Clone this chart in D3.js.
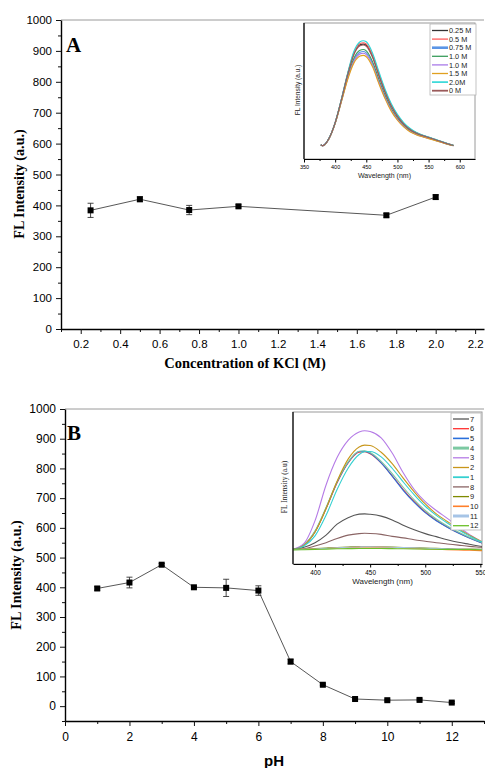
<!DOCTYPE html>
<html>
<head>
<meta charset="utf-8">
<script src="https://cdn.jsdelivr.net/npm/d3@7"></script>
<style>
  body { margin: 0; background: #fff; }
  svg { display: block; }
</style>
</head>
<body>
<svg id="chart" width="485" height="768"></svg>
<script>
"use strict";

// ---- panel A: effect of KCl ----
const kclConc = [0.25, 0.5, 0.75, 1.0, 1.75, 2.0];
const kclIntensity = [384, 420, 385, 397, 368, 427];
const kclError = [23, 8, 15, 5, 6, 7];
const kclTicks = [0.2, 0.4, 0.6, 0.8, 1.0, 1.2, 1.4, 1.6, 1.8, 2.0, 2.2];

// inset A spectra
const waveA = [377, 380, 390, 400, 410, 420, 430, 440, 445, 450, 460, 470, 480, 490, 500, 510, 520, 530, 540, 550, 560, 570, 580, 590];
const specK025 = [106, 97, 151, 267, 436, 621, 773, 840, 845, 836, 755, 622, 497, 393, 316, 259, 219, 193, 174, 159, 144, 128, 113, 99];
const specK05 = [104, 97, 151, 267, 437, 625, 780, 850, 855, 846, 765, 630, 503, 398, 320, 262, 221, 194, 175, 160, 144, 129, 113, 100];
const specK075 = [103, 97, 148, 262, 425, 595, 728, 785, 790, 780, 703, 577, 461, 365, 295, 243, 206, 183, 166, 153, 139, 125, 110, 98];
const specK10a = [104, 98, 149, 264, 428, 600, 740, 800, 805, 795, 716, 588, 470, 372, 300, 247, 209, 185, 168, 155, 140, 126, 111, 99];
const specK10b = [104, 98, 148, 262, 423, 590, 718, 773, 778, 768, 692, 568, 454, 360, 291, 240, 204, 181, 165, 152, 138, 124, 110, 98];
const specK15 = [103, 97, 147, 260, 420, 583, 705, 757, 762, 752, 678, 556, 444, 352, 285, 236, 201, 179, 163, 150, 137, 123, 109, 98];
const specK20 = [105, 98, 152, 268, 440, 630, 790, 862, 870, 862, 780, 645, 515, 408, 328, 268, 226, 197, 177, 162, 146, 130, 114, 100];
const specK0 = [105, 98, 150, 266, 434, 618, 767, 833, 838, 829, 748, 616, 492, 389, 313, 257, 217, 191, 173, 158, 143, 128, 112, 99];
const labelsA = ["0.25 M", "0.5 M", "0.75 M", "1.0 M", "1.0 M", "1.5 M", "2.0M", "0 M"];
const colorsA = ["#333333", "#ff5a5a", "#5a95e6", "#3a9e5c", "#a97ae8", "#e0a020", "#2ad6d6", "#9a5a5a"];
const waveTicksA = [350, 400, 450, 500, 550, 600];

// ---- panel B: effect of pH ----
const phValues = [1, 2, 3, 4, 5, 6, 7, 8, 9, 10, 11, 12];
const phIntensity = [396, 416, 476, 400, 398, 389, 150, 72, 24, 20, 21, 12];
const phError = [6, 18, 4, 3, 29, 16, 8, 3, 3, 3, 3, 3];
const phTicks = [0, 2, 4, 6, 8, 10, 12];

// inset B spectra
const waveB = [380, 390, 400, 410, 420, 430, 440, 445, 450, 460, 470, 480, 490, 500, 510, 520, 530, 540, 550, 555];
const specPh7 = [95, 110, 140, 190, 262, 305, 328, 330, 327, 315, 290, 255, 225, 200, 180, 160, 143, 130, 117, 112];
const specPh6 = [95, 125, 212, 365, 535, 665, 735, 738, 725, 665, 580, 490, 410, 342, 288, 244, 205, 172, 143, 130];
const specPh5 = [95, 125, 213, 367, 537, 668, 740, 742, 728, 665, 578, 485, 405, 338, 285, 242, 204, 171, 142, 130];
const specPh4 = [95, 126, 218, 372, 542, 672, 742, 745, 733, 675, 595, 505, 422, 352, 296, 250, 210, 176, 146, 133];
const specPh3 = [97, 135, 285, 520, 700, 813, 868, 877, 872, 830, 730, 600, 490, 410, 352, 300, 245, 195, 152, 138];
const specPh2 = [95, 124, 210, 365, 545, 690, 770, 782, 780, 735, 660, 565, 475, 395, 330, 280, 232, 190, 152, 138];
const specPh1 = [95, 118, 185, 320, 490, 630, 720, 738, 740, 705, 630, 540, 455, 380, 320, 270, 225, 185, 150, 137];
const specPh8 = [95, 100, 118, 140, 168, 190, 200, 202, 201, 195, 182, 172, 160, 150, 140, 132, 124, 116, 110, 107];
const specPh9 = [96, 98, 101, 105, 109, 112, 114, 114, 114, 113, 111, 109, 107, 105, 103, 101, 99, 98, 97, 96];
const specPh10 = [95, 96, 99, 102, 106, 109, 111, 112, 112, 111, 109, 106, 103, 100, 97, 94, 92, 90, 88, 87];
const specPh11 = [94, 96, 99, 103, 107, 110, 112, 113, 113, 112, 110, 108, 106, 104, 102, 100, 98, 97, 96, 95];
const specPh12 = [93, 94, 96, 98, 100, 101, 102, 102, 102, 102, 101, 100, 99, 98, 97, 96, 95, 95, 94, 94];
const labelsB = ["7", "6", "5", "4", "3", "2", "1", "8", "9", "10", "11", "12"];
const colorsB = ["#555555", "#ff3030", "#2a6fdb", "#7cc9a2", "#b57be6", "#c8961a", "#35d0d0", "#8a6464", "#7f8a00", "#ff7f2a", "#a6c4e6", "#6cc02a"];
const waveTicksB = [400, 450, 500, 550];

const SANS = "'Liberation Sans', Arial, sans-serif";
const SERIF = "'Liberation Serif', 'Times New Roman', serif";

const svg = d3.select("#chart");

function mainPanel(o) {
    const x = d3.scaleLinear().domain(o.xDomain).range([o.left, o.right]);
    const y = d3.scaleLinear().domain(o.yDomain).range([o.bottom, o.top]);
    const g = svg.append("g");

    // frame top
    g.append("line")
        .attr("x1", o.left).attr("x2", o.right)
        .attr("y1", o.top).attr("y2", o.top)
        .attr("stroke", "#9a9a9a").attr("stroke-width", 1);

    // minor ticks
    g.append("g")
        .attr("transform", `translate(${o.left},0)`)
        .call(d3.axisLeft(y).tickValues(o.yMinor).tickSize(3).tickFormat(""))
        .call(s => s.select(".domain").remove());
    g.append("g")
        .attr("transform", `translate(0,${o.bottom})`)
        .call(d3.axisBottom(x).tickValues(o.xMinor).tickSize(3).tickFormat(""))
        .call(s => s.select(".domain").remove());

    const ya = g.append("g")
        .attr("transform", `translate(${o.left},0)`)
        .call(d3.axisLeft(y).tickValues(o.yTicks).tickSize(5).tickSizeOuter(0).tickPadding(4)
            .tickFormat(d3.format("d")));
    const xa = g.append("g")
        .attr("transform", `translate(0,${o.bottom})`)
        .call(d3.axisBottom(x).tickValues(o.xTicks).tickSize(5).tickSizeOuter(0).tickPadding(6)
            .tickFormat(o.xFormat));
    [ya, xa].forEach(a => {
        a.attr("font-family", SANS).attr("font-size", o.tickFont).attr("fill", "#111");
        a.select(".domain").attr("stroke-width", 1.4);
        a.selectAll(".tick line").attr("stroke-width", 1);
    });
    g.selectAll(".tick line").attr("stroke", "#111");

    // connecting line
    g.append("path")
        .datum(o.xs.map((d, i) => [d, o.ys[i]]))
        .attr("fill", "none").attr("stroke", "#444").attr("stroke-width", 0.9)
        .attr("d", d3.line().x(d => x(d[0])).y(d => y(d[1])));

    // error bars
    const eb = g.append("g").attr("stroke", "#333").attr("stroke-width", 0.9);
    o.xs.forEach((d, i) => {
        const cx = x(d), y1 = y(o.ys[i] - o.errs[i]), y2 = y(o.ys[i] + o.errs[i]);
        eb.append("line").attr("x1", cx).attr("x2", cx).attr("y1", y1).attr("y2", y2);
        eb.append("line").attr("x1", cx - 3).attr("x2", cx + 3).attr("y1", y1).attr("y2", y1);
        eb.append("line").attr("x1", cx - 3).attr("x2", cx + 3).attr("y1", y2).attr("y2", y2);
    });

    // square markers
    g.selectAll("rect.pt")
        .data(o.xs)
        .join("rect")
        .attr("class", "pt")
        .attr("x", d => x(d) - 3)
        .attr("y", (d, i) => y(o.ys[i]) - 3)
        .attr("width", 6).attr("height", 6)
        .attr("fill", "#000");

    // panel letter
    g.append("text")
        .attr("x", o.letterX).attr("y", o.letterY)
        .attr("font-family", SERIF).attr("font-weight", "bold").attr("font-size", 21)
        .text(o.letter);

    // axis titles
    g.append("text")
        .attr("transform", `translate(${o.yTitleX},${o.yTitleY}) rotate(-90)`)
        .attr("text-anchor", "middle")
        .attr("font-family", SERIF).attr("font-weight", "bold").attr("font-size", 14.2)
        .text("FL Intensity (a.u.)");
    g.append("text")
        .attr("x", o.xTitleX).attr("y", o.xTitleY)
        .attr("text-anchor", "middle")
        .attr("font-family", o.xTitleFont).attr("font-weight", "bold").attr("font-size", o.xTitleSize)
        .text(o.xTitle);
}

function insetPanel(o) {
    const x = d3.scaleLinear().domain(o.xDomain).range([o.left, o.right]);
    const y = d3.scaleLinear().domain([0, 1000]).range([o.bottom, o.top]);
    const g = svg.append("g");

    g.append("rect")
        .attr("x", o.left).attr("y", o.top)
        .attr("width", o.right - o.left).attr("height", o.bottom - o.top)
        .attr("fill", "#fff").attr("stroke", "#9a9a9a").attr("stroke-width", 1);

    const clipId = "clip" + o.id;
    g.append("clipPath").attr("id", clipId)
        .append("rect")
        .attr("x", o.left).attr("y", o.top)
        .attr("width", o.right - o.left).attr("height", o.bottom - o.top);

    const line = d3.line()
        .x((d, i) => x(o.wave[i]))
        .y(d => y(d))
        .curve(d3.curveMonotoneX);

    g.append("g").attr("clip-path", `url(#${clipId})`)
        .selectAll("path")
        .data(o.series)
        .join("path")
        .attr("fill", "none")
        .attr("stroke", (d, i) => o.colors[i])
        .attr("stroke-width", o.lineWidth)
        .attr("d", d => line(d));

    // minor + major ticks
    g.append("g")
        .attr("transform", `translate(0,${o.bottom})`)
        .call(d3.axisBottom(x).tickValues(o.minor).tickSize(2).tickFormat(""))
        .call(s => s.select(".domain").remove());
    const xa = g.append("g")
        .attr("transform", `translate(0,${o.bottom})`)
        .call(d3.axisBottom(x).tickValues(o.ticks).tickSize(3.5).tickSizeOuter(0).tickPadding(3));
    xa.attr("font-family", SANS).attr("font-size", o.tickFont).attr("fill", "#333");
    xa.select(".domain").attr("stroke-width", 1.2);

    // left axis
    g.append("line")
        .attr("x1", o.left).attr("x2", o.left)
        .attr("y1", o.top).attr("y2", o.bottom)
        .attr("stroke", "#000").attr("stroke-width", 1.2);

    g.append("text")
        .attr("x", (o.left + Math.min(o.right, 485)) / 2 - o.titleShift)
        .attr("y", o.xTitleY)
        .attr("text-anchor", "middle")
        .attr("font-family", SANS).attr("font-size", o.xTitleSize).attr("fill", "#222")
        .text("Wavelength (nm)");
    g.append("text")
        .attr("transform", `translate(${o.yTitleX},${o.yTitleY}) rotate(-90)`)
        .attr("text-anchor", "middle")
        .attr("font-family", o.yTitleFont).attr("font-size", o.yTitleSize).attr("fill", "#222")
        .text(o.yTitle);

    // legend
    const lg = g.append("g");
    lg.append("rect")
        .attr("x", o.legend.x).attr("y", o.legend.y)
        .attr("width", o.legend.w).attr("height", o.legend.h)
        .attr("fill", "#fff").attr("stroke", "#b5b5b5").attr("stroke-width", 0.8);
    o.labels.forEach((lab, i) => {
        const ly = o.legend.y + o.legend.first + i * o.legend.step;
        lg.append("line")
            .attr("x1", o.legend.x + 2).attr("x2", o.legend.x + 18)
            .attr("y1", ly).attr("y2", ly)
            .attr("stroke", o.colors[i])
            .attr("stroke-width", o.legendWidths[i]);
        lg.append("text")
            .attr("x", o.legend.x + 19).attr("y", ly + 2.6)
            .attr("font-family", SANS).attr("font-size", o.legendFont).attr("fill", "#222")
            .text(lab);
    });
}

mainPanel({
    left: 61, right: 484, top: 20, bottom: 329,
    xDomain: [0.1, 2.245], yDomain: [0, 1000],
    xTicks: kclTicks, xMinor: d3.range(0.1, 2.25, 0.2),
    yTicks: d3.range(0, 1001, 100), yMinor: d3.range(50, 1000, 100),
    xFormat: d3.format(".1f"), tickFont: 11.5,
    xs: kclConc, ys: kclIntensity, errs: kclError,
    letter: "A", letterX: 66, letterY: 52,
    yTitleX: 24, yTitleY: 184,
    xTitle: "Concentration of KCl (M)", xTitleX: 245, xTitleY: 368,
    xTitleFont: SERIF, xTitleSize: 14.5
});

insetPanel({
    id: "A",
    left: 304, right: 475, top: 23, bottom: 159,
    xDomain: [350, 624.5],
    wave: waveA,
    series: [specK025, specK05, specK075, specK10a, specK10b, specK15, specK20, specK0],
    colors: colorsA, labels: labelsA,
    legendWidths: [1.3, 1.3, 2.6, 1.3, 1.3, 1.3, 1.6, 1.8],
    lineWidth: 1.1,
    ticks: waveTicksA, minor: [375, 425, 475, 525, 575], tickFont: 5.5,
    xTitleY: 178, xTitleSize: 7, titleShift: 5,
    yTitle: "FL Intensity (a.u.)", yTitleX: 300, yTitleY: 90, yTitleFont: SANS, yTitleSize: 6.5,
    legend: { x: 430, y: 24, w: 46, h: 71, first: 6.5, step: 8.6 },
    legendFont: 7.3
});

mainPanel({
    left: 65, right: 484, top: 409, bottom: 721,
    xDomain: [0, 13], yDomain: [-50, 1000],
    xTicks: phTicks, xMinor: d3.range(1, 14, 2),
    yTicks: d3.range(0, 1001, 100), yMinor: d3.range(-50, 1000, 100),
    xFormat: d3.format("d"), tickFont: 12,
    xs: phValues, ys: phIntensity, errs: phError,
    letter: "B", letterX: 67, letterY: 440,
    yTitleX: 21, yTitleY: 575,
    xTitle: "pH", xTitleX: 274, xTitleY: 766,
    xTitleFont: SANS, xTitleSize: 15
});

insetPanel({
    id: "B",
    left: 293, right: 482, top: 412, bottom: 564,
    xDomain: [380, 551.5],
    wave: waveB,
    series: [specPh7, specPh6, specPh5, specPh4, specPh3, specPh2, specPh1, specPh8, specPh9, specPh10, specPh11, specPh12],
    colors: colorsB, labels: labelsB,
    legendWidths: [1.3, 1.3, 1.6, 3, 1.3, 1.3, 1.8, 1.3, 1.3, 1.6, 3, 1.3],
    lineWidth: 1.1,
    ticks: waveTicksB, minor: [425, 475, 525], tickFont: 6.4,
    xTitleY: 584, xTitleSize: 8, titleShift: 5,
    yTitle: "FL Intensity (a.u)", yTitleX: 287, yTitleY: 487, yTitleFont: SERIF, yTitleSize: 7.5,
    legend: { x: 451, y: 413, w: 30, h: 117, first: 6, step: 9.7 },
    legendFont: 7.5
});
</script>
</body>
</html>
